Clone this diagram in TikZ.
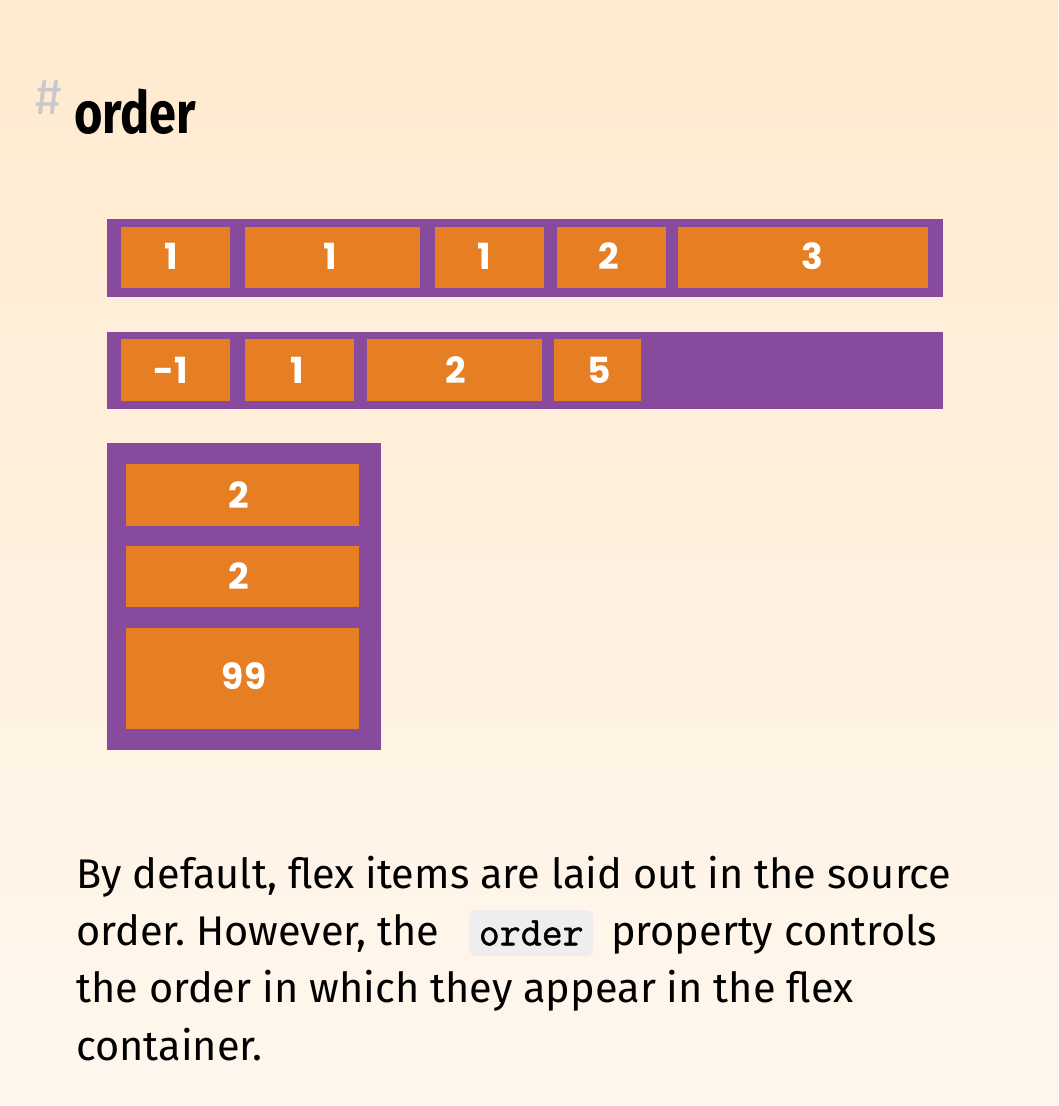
\documentclass[tikz,border=0pt]{standalone}
\usepackage{fontspec}
\usetikzlibrary{calc}
\setmainfont{Fira Sans}
\newfontfamily\titlefont[FakeStretch=0.83]{Fira Sans}
\newfontfamily\labelfont{Poppins}
\newfontfamily\codefont[FakeBold=1.2]{Latin Modern Mono}
\definecolor{bgtop}{HTML}{FFEACF}
\definecolor{bgbot}{HTML}{FFF7EE}
\definecolor{flexpurple}{HTML}{884A9C}
\definecolor{flexorange}{HTML}{E67E24}
\definecolor{hashgray}{HTML}{C9C9CC}
\definecolor{codebg}{HTML}{EEEEEE}
\begin{document}
\frenchspacing
\begin{tikzpicture}[x=0.75pt,y=-0.75pt,
  container/.style={fill=flexpurple,draw=none},
  item/.style={fill=flexorange,draw=none},
  num/.style={text=white,font=\labelfont\bfseries\fontsize{27pt}{27pt}\selectfont,inner sep=0pt},
  body/.style={anchor=base west,inner sep=0pt,font=\fontsize{31.1pt}{36pt}\selectfont}]
\shade[top color=bgtop,bottom color=bgbot] (0,0) rectangle (1058,1106);
\useasboundingbox (0,0) rectangle (1058,1106);

% title
\node[anchor=base west,inner sep=0pt,text=hashgray,font=\fontsize{38pt}{38pt}\selectfont] (hash) at (35,114) {\#};
\node[anchor=base west,inner sep=0pt,font=\titlefont\bfseries\fontsize{44pt}{44pt}\selectfont] (title) at (74,133) {order};

% row 1
\path[container] (107,219) rectangle (943,297);
\path[item] (121,227) rectangle (230,288);
\path[item] (245,227) rectangle (420,288);
\path[item] (435,227) rectangle (544,288);
\path[item] (557,227) rectangle (666,288);
\path[item] (678,227) rectangle (928,288);
\node[num] (r1a) at (171,256) {1};
\node[num] (r1b) at (330,256) {1};
\node[num] (r1c) at (484,256) {1};
\node[num] (r1d) at (609,256) {2};
\node[num] (r1e) at (812,256) {3};

% row 2
\path[container] (107,332) rectangle (943,409);
\path[item] (121,339) rectangle (230,401);
\path[item] (245,339) rectangle (354,401);
\path[item] (367,339) rectangle (542,401);
\path[item] (554,339) rectangle (641,401);
\node[num] (r2a) at (171,370) {-1};
\node[num] (r2b) at (297,370) {1};
\node[num] (r2c) at (456,370) {2};
\node[num] (r2d) at (599,370) {5};

% column
\path[container] (107,443) rectangle (381,750);
\path[item] (126,464) rectangle (359,526);
\path[item] (126,546) rectangle (359,607);
\path[item] (126,628) rectangle (359,729);
\node[num] (c3a) at (239,495) {2};
\node[num] (c3b) at (239,576) {2};
\node[num] (c3c) at (244,676) {99};

% body text
\node[body] (l1) at (76,888) {By default, flex items are laid out in the source};
\node[body] (l2) at (76,945) {order. However, the};
\node[fill=codebg,rounded corners=5pt,anchor=west,minimum width=93pt,minimum height=34.5pt,inner sep=0pt,
      font=\codefont\fontsize{30.5pt}{30.5pt}\selectfont] (code) at (469,933) {order};
\node[body] (l2b) at (611,945) {property controls};
\node[body] (l3) at (76,1002) {the order in which they appear in the flex};
\node[body] (l4) at (76,1060) {container.};
\end{tikzpicture}
\end{document}
